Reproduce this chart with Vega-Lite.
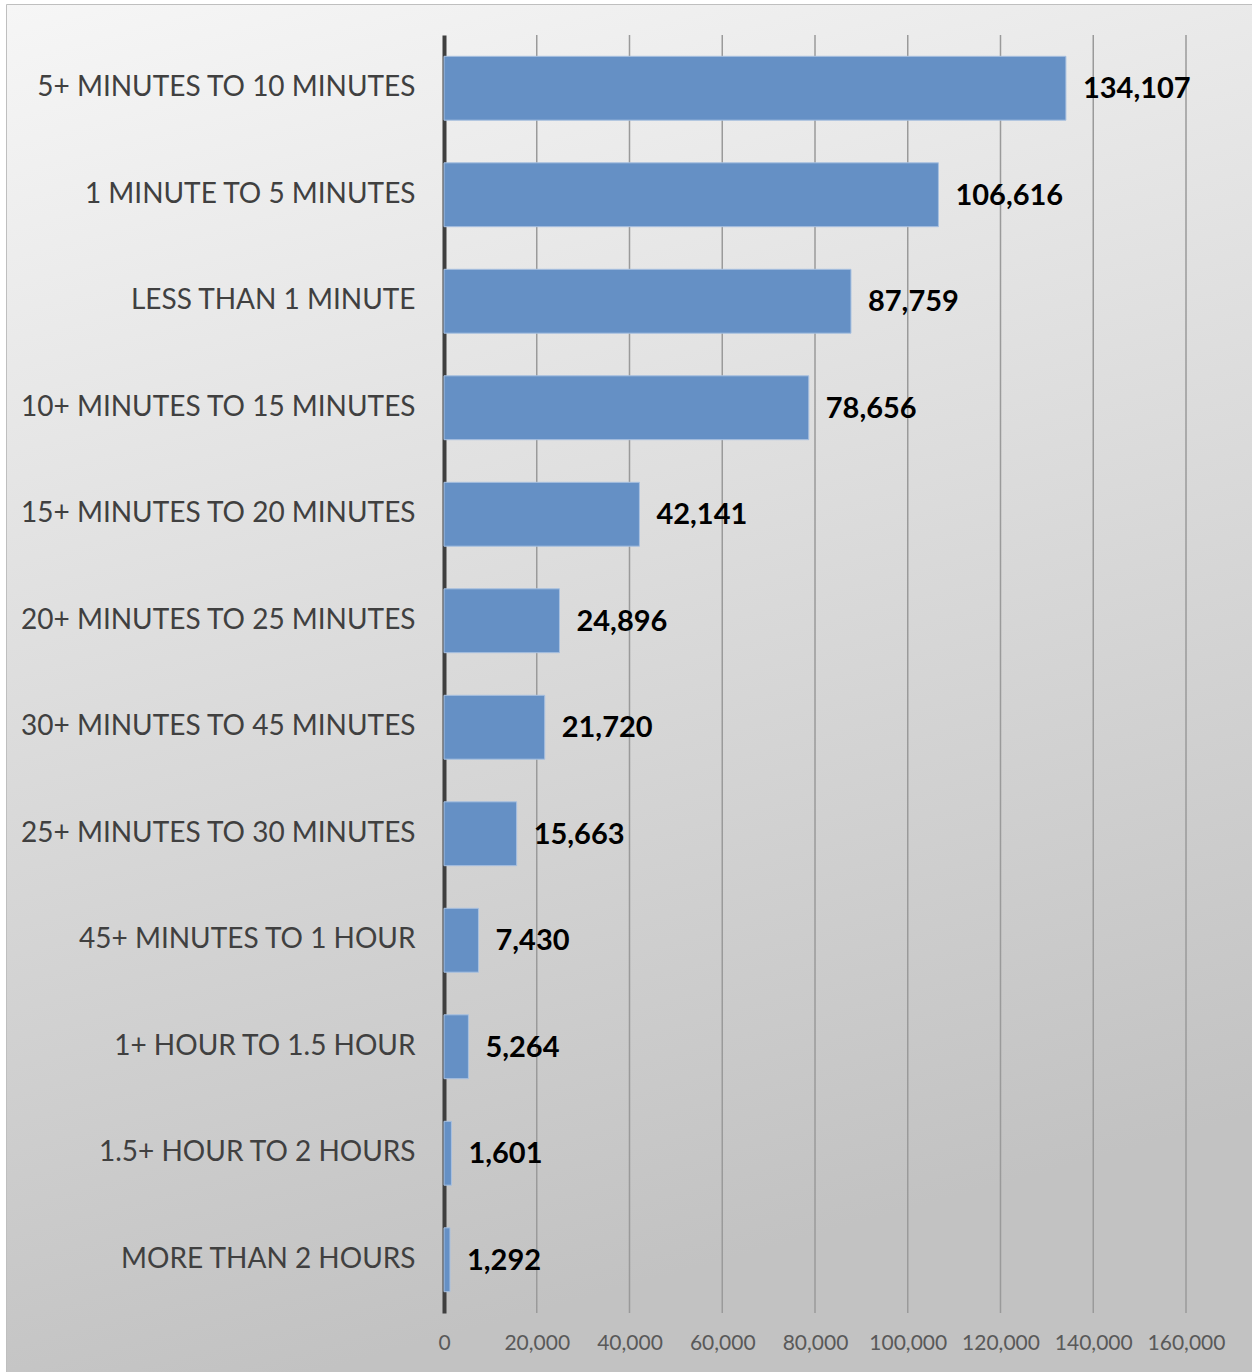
{
  "$schema": "https://vega.github.io/schema/vega-lite/v6.json",
  "width": 1246,
  "height": 1368,
  "autosize": "none",
  "padding": {"left": 6, "top": 4, "right": 0, "bottom": 0},
  "background": "#ffffff",
  "config": {
    "view": {
      "stroke": "#bfbfbf",
      "strokeWidth": 1,
      "fill": {
        "gradient": "linear",
        "x1": 0, "y1": 0, "x2": 0.25, "y2": 1,
        "stops": [
          {"offset": 0, "color": "#f6f6f6"},
          {"offset": 1, "color": "#c2c2c2"}
        ]
      }
    },
    "font": "Lato"
  },
  "resolve": {"scale": {"y": "independent"}, "axis": {"y": "independent"}},
  "layer": [
    {
      "data": {"values": [
        {"tick": 20000}, {"tick": 40000}, {"tick": 60000}, {"tick": 80000},
        {"tick": 100000}, {"tick": 120000}, {"tick": 140000}, {"tick": 160000}
      ]},
      "mark": {"type": "rule", "stroke": "#9a9a9a", "strokeWidth": 1.5},
      "encoding": {
        "x": {
          "field": "tick", "type": "quantitative",
          "scale": {"domain": [-94447, 174232], "nice": false, "zero": false},
          "axis": {
            "title": null, "values": [0, 20000, 40000, 60000, 80000, 100000, 120000, 140000, 160000],
            "format": ",.0f", "grid": false, "domain": false, "ticks": false,
            "offset": -59, "labelPadding": 19,
            "labelFont": "Lato", "labelFontSize": 21, "labelColor": "#595959"
          }
        },
        "y": {"datum": 0, "type": "quantitative", "scale": {"domain": [-0.046166, 1.024257], "nice": false, "zero": false}, "axis": null},
        "y2": {"datum": 1}
      }
    },
    {
      "data": {"values": [
        {"duration": "5+ MINUTES TO 10 MINUTES", "count": 134107},
        {"duration": "1 MINUTE TO 5 MINUTES", "count": 106616},
        {"duration": "LESS THAN 1 MINUTE", "count": 87759},
        {"duration": "10+ MINUTES TO 15 MINUTES", "count": 78656},
        {"duration": "15+ MINUTES TO 20 MINUTES", "count": 42141},
        {"duration": "20+ MINUTES TO 25 MINUTES", "count": 24896},
        {"duration": "30+ MINUTES TO 45 MINUTES", "count": 21720},
        {"duration": "25+ MINUTES TO 30 MINUTES", "count": 15663},
        {"duration": "45+ MINUTES TO 1 HOUR", "count": 7430},
        {"duration": "1+ HOUR TO 1.5 HOUR", "count": 5264},
        {"duration": "1.5+ HOUR TO 2 HOURS", "count": 1601},
        {"duration": "MORE THAN 2 HOURS", "count": 1292}
      ]},
      "encoding": {
        "y": {
          "field": "duration", "type": "nominal", "sort": null,
          "scale": {"range": [31, 1309], "paddingInner": 0.4, "paddingOuter": 0.2},
          "axis": {
            "title": null, "orient": "left", "offset": -438,
            "domainColor": "#3f3f3f", "domainWidth": 4,
            "ticks": false, "grid": false,
            "labelFont": "Lato", "labelFontSize": 28, "labelColor": "#404040",
            "labelPadding": 29, "labelLimit": 600
          }
        },
        "x": {
          "field": "count", "type": "quantitative",
          "scale": {"domain": [-94447, 174232], "nice": false, "zero": false},
          "axis": {
            "title": null, "values": [0, 20000, 40000, 60000, 80000, 100000, 120000, 140000, 160000],
            "format": ",.0f", "grid": false, "domain": false, "ticks": false,
            "offset": -59, "labelPadding": 19,
            "labelFont": "Lato", "labelFontSize": 21, "labelColor": "#595959"
          }
        }
      },
      "layer": [
        {"mark": {"type": "bar", "fill": "#6590c5", "stroke": "#a9c1e0", "strokeWidth": 1}},
        {
          "mark": {"type": "text", "align": "left", "baseline": "middle", "dx": 17, "dy": 1, "font": "Lato", "fontSize": 29, "fontWeight": "bold", "fill": "#000000"},
          "encoding": {"text": {"field": "count", "type": "quantitative", "format": ","}}
        }
      ]
    }
  ]
}
